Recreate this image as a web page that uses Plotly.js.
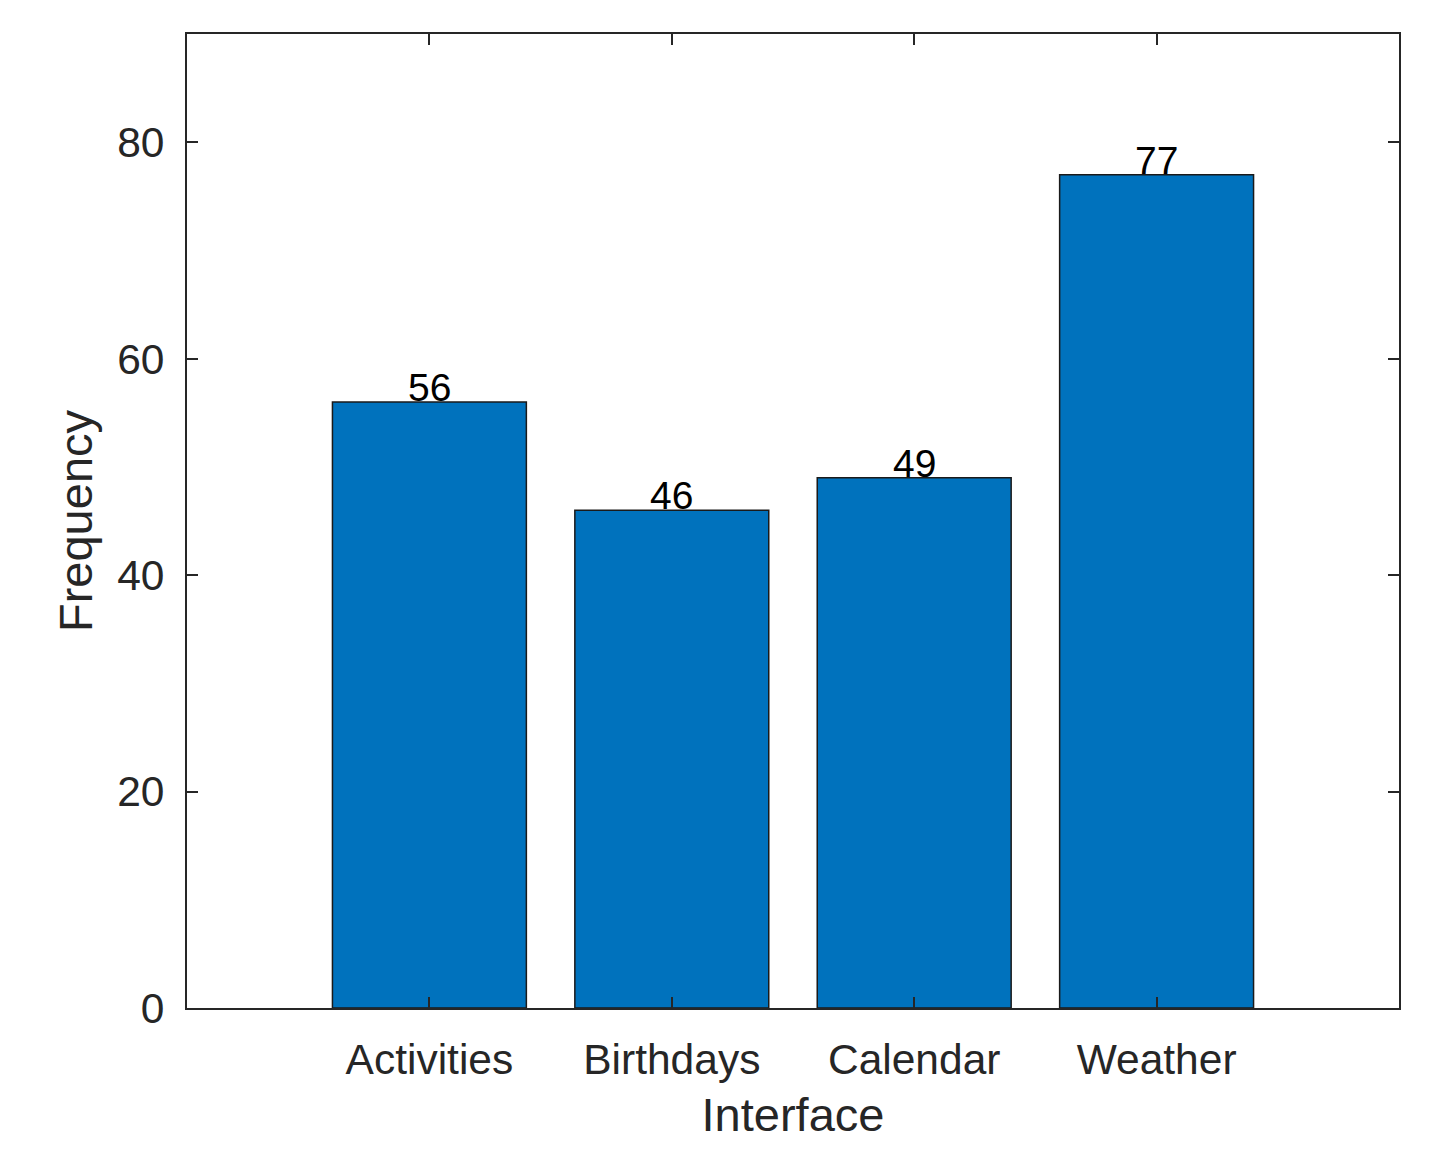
<!DOCTYPE html>
<html><head><meta charset="utf-8">
<script src="https://cdn.plot.ly/plotly-3.0.1.min.js"></script>
<style>html,body{margin:0;padding:0;background:#fff;}#chart{width:1440px;height:1161px;}</style>
</head><body><div id="chart"></div>
<script>
const categories = ["Activities", "Birthdays", "Calendar", "Weather"];
const frequency = [56, 46, 49, 77];
const yTicks = [0, 20, 40, 60, 80];

const axisColor = "#262626";
const fontFam = "Liberation Sans, Arial, Helvetica, sans-serif";

const trace = {
  type: "bar",
  x: categories,
  y: frequency,
  width: 0.8,
  marker: {color: "#0072BD", line: {color: "#1a1a1a", width: 1.5}},
  hoverinfo: "x+y"
};

const annotations = categories.map((c, i) => ({
  x: c, y: frequency[i], xref: "x", yref: "y",
  text: String(frequency[i]), showarrow: false,
  yanchor: "bottom", xanchor: "center", yshift: -9,
  font: {family: fontFam, size: 39, color: "#000"}
}));

const layout = {
  width: 1440, height: 1161,
  margin: {l: 187, r: 41, t: 34, b: 153},
  paper_bgcolor: "#fff", plot_bgcolor: "#fff",
  showlegend: false,
  font: {family: fontFam, color: axisColor},
  xaxis: {
    type: "category", range: [-1, 4],
    showgrid: false, zeroline: false,
    showline: true, linecolor: axisColor, linewidth: 2, mirror: "ticks",
    ticks: "inside", ticklen: 11, tickwidth: 2, tickcolor: axisColor,
    tickfont: {family: fontFam, size: 42.5, color: axisColor},
    ticklabelstandoff: 13,
    title: {text: "Interface", font: {family: fontFam, size: 47, color: axisColor}, standoff: 16}
  },
  yaxis: {
    range: [0, 90], tickvals: yTicks, ticktext: yTicks.map(String),
    showgrid: false, zeroline: false,
    showline: true, linecolor: axisColor, linewidth: 2, mirror: "ticks",
    ticks: "inside", ticklen: 11, tickwidth: 2, tickcolor: axisColor,
    tickfont: {family: fontFam, size: 42.5, color: axisColor},
    ticklabelstandoff: 12,
    title: {text: "Frequency", font: {family: fontFam, size: 47, color: axisColor}, standoff: 10}
  },
  annotations: annotations
};

Plotly.newPlot("chart", [trace], layout, {displayModeBar: false, staticPlot: true});
</script>
</body></html>
